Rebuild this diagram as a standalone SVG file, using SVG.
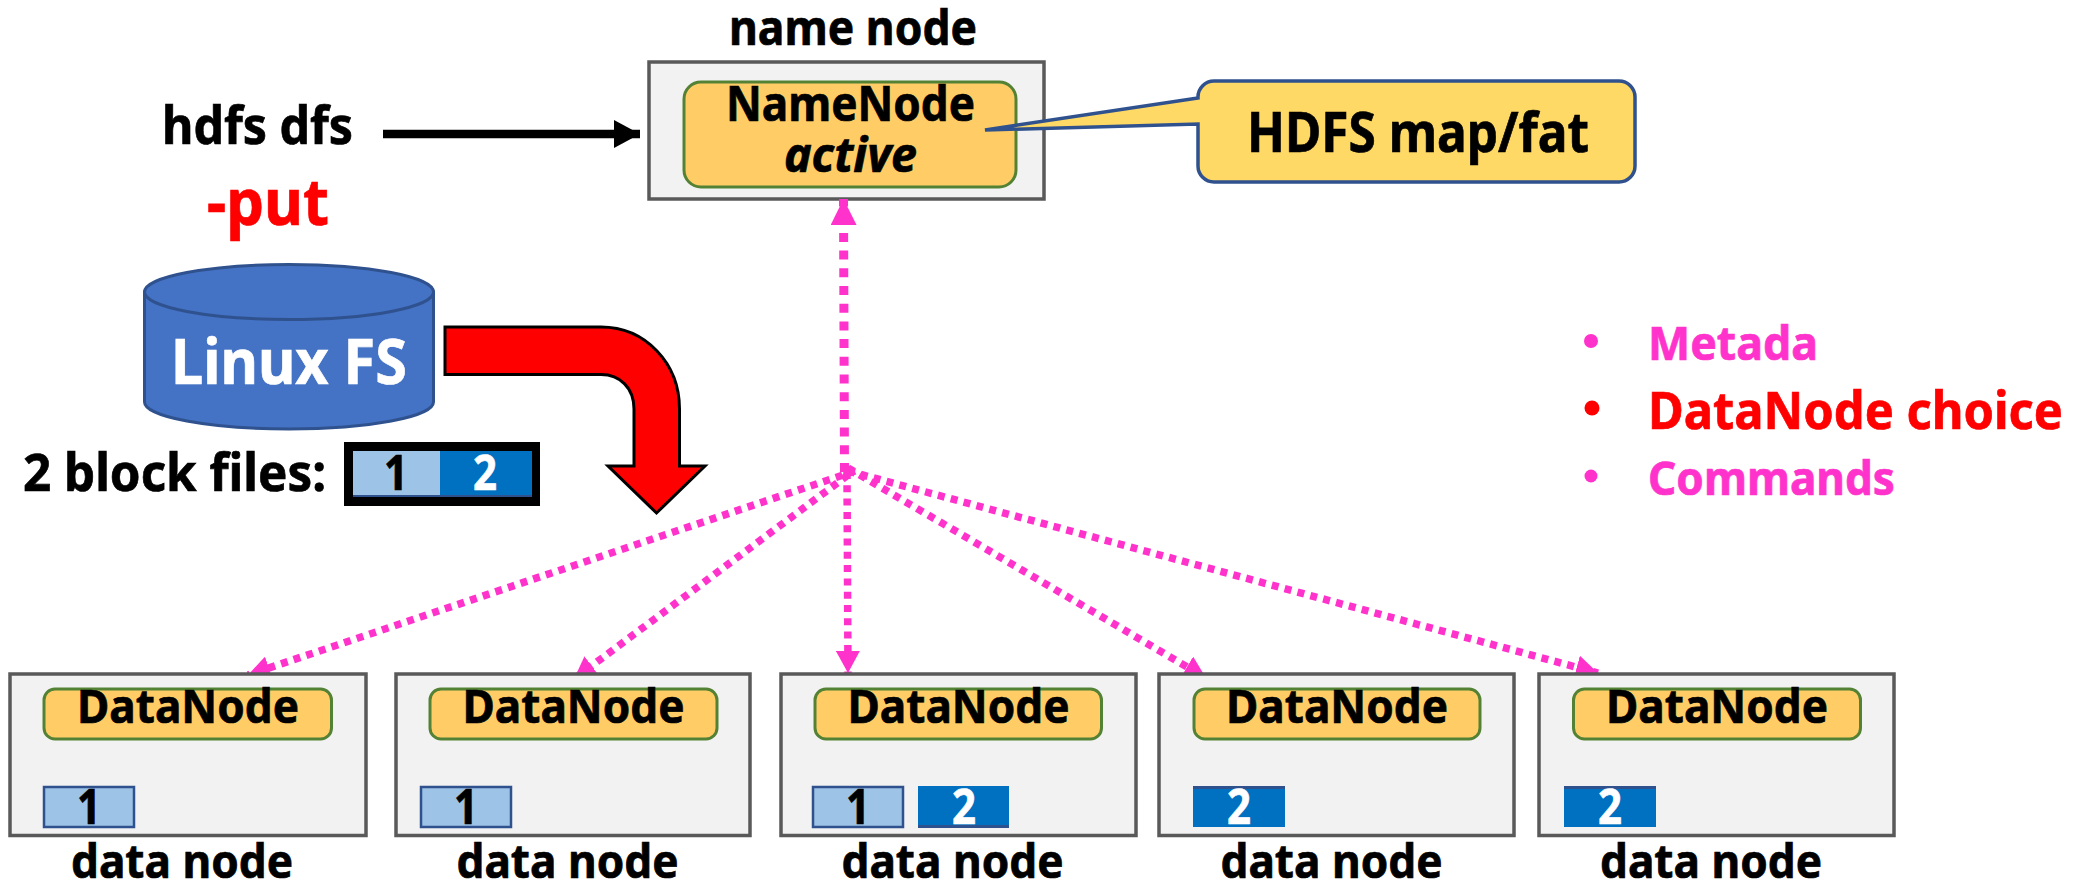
<svg xmlns="http://www.w3.org/2000/svg" width="2085" height="882" viewBox="0 0 2085 882">
<style>
text{font-family:"Noto Sans","Open Sans","Liberation Sans",sans-serif;font-weight:700;fill:#000;stroke:#000;stroke-width:.7}
.w{fill:#fff;stroke:#fff}.r{fill:#f00;stroke:#f00}.m{fill:#f3c;stroke:#f3c}
.host{fill:#f2f2f2;stroke:#595959;stroke-width:3.5}
.proc{fill:#fc6;stroke:#548235;stroke-width:3}
.b1{fill:#9dc3e6;stroke:#2f528f;stroke-width:2.5}
.b2{fill:#0070c0;stroke:#2f528f;stroke-width:0}
.b2t{fill:#2f528f}
.link{stroke:#f3c;stroke-width:7.500;stroke-dasharray:7 6.300;fill:none;marker-end:url(#mh)}
</style>
<defs>
<marker id="mh" markerUnits="userSpaceOnUse" markerWidth="22" markerHeight="24" viewBox="0 0 22 24" refX="22" refY="12" orient="auto"><path d="M0 0L22 12L0 24z" fill="#f3c"/></marker>
<marker id="mu" markerUnits="userSpaceOnUse" markerWidth="26" markerHeight="26" viewBox="0 0 26 26" refX="26" refY="13" orient="auto"><path d="M0 0L26 13L0 26z" fill="#f3c"/></marker>
<marker id="bh" markerUnits="userSpaceOnUse" markerWidth="26" markerHeight="28" viewBox="0 0 26 28" refX="26" refY="14" orient="auto"><path d="M0 0L26 14L0 28z" fill="#000"/></marker>
</defs>
<rect width="2085" height="882" fill="#fff"/>

<g id="name-node">
<text x="729" y="45" font-size="48" textLength="248" lengthAdjust="spacingAndGlyphs">name node</text>
<rect class="host" x="649" y="62" width="395" height="137"/>
<rect class="proc" x="684" y="82" width="332" height="105" rx="17"/>
<text x="726" y="121" font-size="48" textLength="249" lengthAdjust="spacingAndGlyphs">NameNode</text>
<text x="784" y="172" font-size="48" font-style="italic" textLength="133" lengthAdjust="spacingAndGlyphs">active</text>
</g>

<g id="callout">
<path d="M1198 98V97A16 16 0 0 1 1214 81H1619A16 16 0 0 1 1635 97V166A16 16 0 0 1 1619 182H1214A16 16 0 0 1 1198 166V124L985 130Z" fill="#ffd966" stroke="#2f528f" stroke-width="3.500"/>
<text x="1247" y="152" font-size="55" textLength="342" lengthAdjust="spacingAndGlyphs">HDFS map/fat</text>
</g>

<g id="client">
<text x="162" y="144" font-size="52" textLength="191" lengthAdjust="spacingAndGlyphs">hdfs dfs</text>
<text class="r" x="207" y="225" font-size="64" textLength="122" lengthAdjust="spacingAndGlyphs">-put</text>
</g>

<g id="linux-fs">
<path d="M144.500 292V402A144.500 27 0 0 0 433.500 402V292Z" fill="#4472c4" stroke="#2f528f" stroke-width="3"/>
<ellipse cx="289" cy="292" rx="144.500" ry="27.500" fill="#4472c4" stroke="#2f528f" stroke-width="3"/>
<text class="w" x="171" y="384" font-size="63" textLength="236" lengthAdjust="spacingAndGlyphs">Linux FS</text>
</g>

<g id="block-file">
<text x="23" y="491" font-size="52" textLength="303" lengthAdjust="spacingAndGlyphs">2 block files:</text>
<rect x="344" y="442" width="196" height="64" fill="#000"/>
<rect x="353" y="451" width="87" height="46" fill="#9dc3e6"/>
<rect x="440" y="451" width="92" height="46" fill="#0070c0"/>
<rect x="353" y="495" width="179" height="2" fill="#2f528f"/>
<text x="396" y="490" font-size="48" text-anchor="middle" textLength="24" lengthAdjust="spacingAndGlyphs">1</text>
<text class="w" x="485" y="490" font-size="48" text-anchor="middle" textLength="24" lengthAdjust="spacingAndGlyphs">2</text>
</g>

<g id="red-arrow">
<path d="M445 327H601C645 327 679.500 363 679.500 409V466H705L656.500 513L608 466H634V409C634 388 620 374.600 601 374.600H445Z" fill="#f00" stroke="#000" stroke-width="3"/>
</g>

<g id="connectors">
<line x1="383" y1="134" x2="640" y2="134" stroke="#000" stroke-width="8.500" marker-end="url(#bh)"/>
<line x1="844.500" y1="472" x2="843.500" y2="199" stroke="#f3c" stroke-width="9" stroke-dasharray="9 8.700" marker-end="url(#mu)"/>
<line class="link" x1="855" y1="471" x2="248" y2="675"/>
<line class="link" x1="848" y1="475" x2="574" y2="679"/>
<line class="link" x1="847" y1="472" x2="848" y2="673"/>
<line class="link" x1="848" y1="468" x2="1206" y2="678"/>
<line class="link" x1="848" y1="471" x2="1598" y2="673"/>
</g>

<g id="data-node-1">
<rect class="host" x="10" y="674" width="356" height="161.500"/>
<rect class="proc" x="44" y="689" width="287.500" height="50" rx="11"/>
<text x="77" y="723" font-size="47" textLength="222" lengthAdjust="spacingAndGlyphs">DataNode</text>
<rect class="b1" x="44" y="787" width="90" height="40"/>
<text x="89" y="824" font-size="48" text-anchor="middle" textLength="24" lengthAdjust="spacingAndGlyphs">1</text>
<text x="71" y="878" font-size="47" textLength="222" lengthAdjust="spacingAndGlyphs">data node</text>
</g>
<g id="data-node-2">
<rect class="host" x="396" y="674" width="354" height="161.500"/>
<rect class="proc" x="430" y="689" width="287" height="50" rx="11"/>
<text x="462.500" y="723" font-size="47" textLength="222" lengthAdjust="spacingAndGlyphs">DataNode</text>
<rect class="b1" x="421" y="787" width="90" height="40"/>
<text x="466" y="824" font-size="48" text-anchor="middle" textLength="24" lengthAdjust="spacingAndGlyphs">1</text>
<text x="456.500" y="878" font-size="47" textLength="222" lengthAdjust="spacingAndGlyphs">data node</text>
</g>
<g id="data-node-3">
<rect class="host" x="781" y="674" width="355" height="161.500"/>
<rect class="proc" x="815" y="689" width="286.500" height="50" rx="11"/>
<text x="847.500" y="723" font-size="47" textLength="222" lengthAdjust="spacingAndGlyphs">DataNode</text>
<rect class="b1" x="813" y="787" width="90" height="40"/>
<text x="858" y="824" font-size="48" text-anchor="middle" textLength="24" lengthAdjust="spacingAndGlyphs">1</text>
<rect class="b2" x="918" y="786" width="91" height="41"/><rect class="b2t" x="918" y="825" width="91" height="3"/>
<text class="w" x="964" y="824" font-size="48" text-anchor="middle" textLength="24" lengthAdjust="spacingAndGlyphs">2</text>
<text x="841.500" y="878" font-size="47" textLength="222" lengthAdjust="spacingAndGlyphs">data node</text>
</g>
<g id="data-node-4">
<rect class="host" x="1159" y="674" width="355" height="161.500"/>
<rect class="proc" x="1194" y="689" width="286" height="50" rx="11"/>
<text x="1226" y="723" font-size="47" textLength="222" lengthAdjust="spacingAndGlyphs">DataNode</text>
<rect class="b2" x="1193" y="786" width="92" height="41"/><rect class="b2t" x="1193" y="786" width="92" height="3"/>
<text class="w" x="1239" y="824" font-size="48" text-anchor="middle" textLength="24" lengthAdjust="spacingAndGlyphs">2</text>
<text x="1220.500" y="878" font-size="47" textLength="222" lengthAdjust="spacingAndGlyphs">data node</text>
</g>
<g id="data-node-5">
<rect class="host" x="1539" y="674" width="355" height="161.500"/>
<rect class="proc" x="1573.500" y="689" width="287" height="50" rx="11"/>
<text x="1606" y="723" font-size="47" textLength="222" lengthAdjust="spacingAndGlyphs">DataNode</text>
<rect class="b2" x="1564" y="786" width="92" height="41"/><rect class="b2t" x="1564" y="786" width="92" height="3"/>
<text class="w" x="1610" y="824" font-size="48" text-anchor="middle" textLength="24" lengthAdjust="spacingAndGlyphs">2</text>
<text x="1600" y="878" font-size="47" textLength="222" lengthAdjust="spacingAndGlyphs">data node</text>
</g>

<g id="legend">
<circle cx="1591" cy="341" r="7" fill="#f3c"/>
<text class="m" x="1648" y="360" font-size="46" textLength="170" lengthAdjust="spacingAndGlyphs">Metada</text>
<circle cx="1592" cy="408" r="7.500" fill="#f00"/>
<text class="r" x="1648" y="429" font-size="52" textLength="415" lengthAdjust="spacingAndGlyphs">DataNode choice</text>
<circle cx="1591" cy="476" r="6.500" fill="#f3c"/>
<text class="m" x="1648" y="495" font-size="46" textLength="247" lengthAdjust="spacingAndGlyphs">Commands</text>
</g>
</svg>
